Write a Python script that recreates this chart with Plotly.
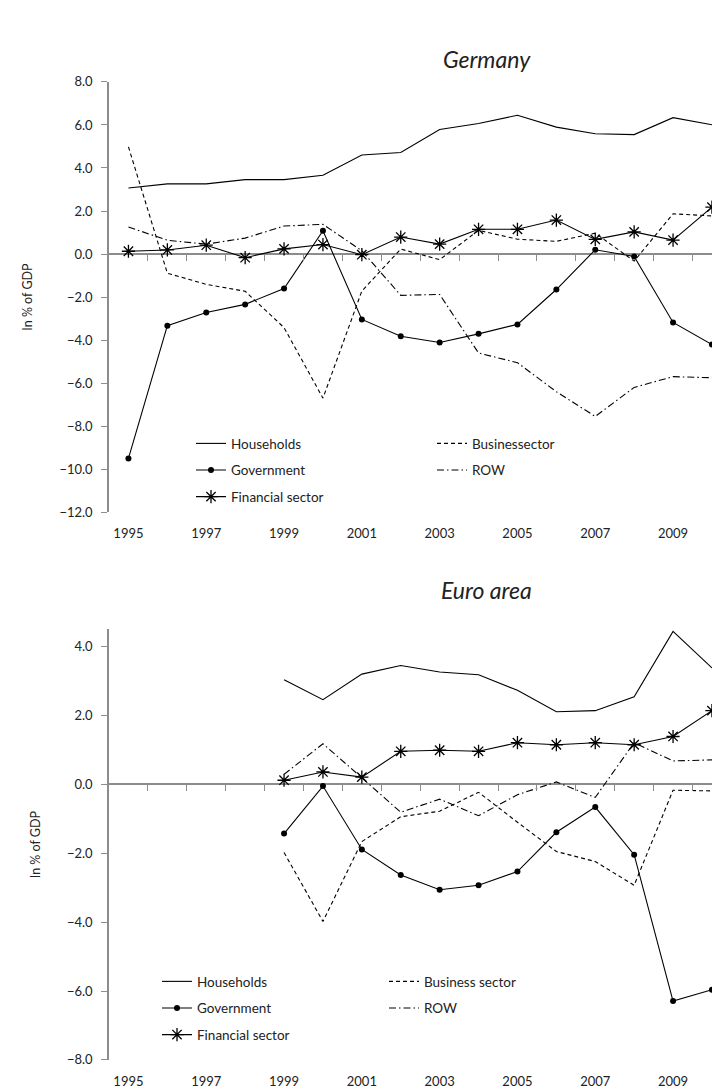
import plotly.graph_objects as go

years = list(range(1995, 2011))
years_ea = list(range(1999, 2011))

# Germany (in % of GDP)
de_households = [3.07, 3.26, 3.26, 3.46, 3.46, 3.66, 4.60, 4.72, 5.79, 6.07, 6.45, 5.90, 5.59, 5.55, 6.34, 6.01]
de_business = [4.98, -0.89, -1.41, -1.73, -3.42, -6.70, -1.72, 0.23, -0.26, 1.10, 0.69, 0.59, 0.97, -0.33, 1.87, 1.77]
de_government = [-9.50, -3.33, -2.72, -2.34, -1.60, 1.08, -3.04, -3.82, -4.11, -3.71, -3.27, -1.65, 0.20, -0.11, -3.18, -4.21]
de_row = [1.26, 0.64, 0.46, 0.74, 1.30, 1.38, 0.15, -1.92, -1.88, -4.60, -5.05, -6.40, -7.55, -6.20, -5.70, -5.75]
de_financial = [0.13, 0.19, 0.41, -0.17, 0.24, 0.44, -0.03, 0.79, 0.46, 1.15, 1.15, 1.58, 0.68, 1.03, 0.65, 2.18]

# Euro area (in % of GDP)
ea_households = [3.04, 2.46, 3.20, 3.45, 3.26, 3.18, 2.73, 2.11, 2.14, 2.54, 4.44, 3.38]
ea_business = [-1.98, -3.98, -1.66, -0.94, -0.78, -0.23, -1.10, -1.95, -2.24, -2.93, -0.17, -0.19]
ea_government = [-1.43, -0.05, -1.89, -2.63, -3.06, -2.93, -2.53, -1.39, -0.66, -2.04, -6.29, -5.96]
ea_row = [0.29, 1.18, 0.19, -0.81, -0.43, -0.91, -0.30, 0.07, -0.38, 1.21, 0.68, 0.71]
ea_financial = [0.12, 0.36, 0.21, 0.96, 0.99, 0.96, 1.21, 1.15, 1.21, 1.15, 1.39, 2.14]

label_years = list(range(1995, 2010, 2))
tick_marks = [y + 0.5 for y in range(1995, 2011)]
de_yticks = list(range(-12, 9, 2))
ea_yticks = list(range(-8, 5, 2))

FONT = "Lato"
TXT = "#222222"
AX = "#8c8c8c"
H = 1089.0

def styles():
    return [
        dict(mode="lines", line=dict(color="black", width=1.1)),
        dict(mode="lines", line=dict(color="black", width=1.1, dash="4px,3px")),
        dict(mode="lines+markers", line=dict(color="black", width=1.1),
             marker=dict(symbol="circle", size=6, color="black")),
        dict(mode="lines", line=dict(color="black", width=1.1, dash="7px,3px,1.5px,3px")),
        dict(mode="lines+markers", line=dict(color="black", width=1.1),
             marker=dict(symbol="asterisk-open", size=11, color="black",
                         line=dict(color="black", width=1.3))),
    ]

fig = go.Figure()

de_names = ["Households", "Businessector", "Government", "ROW", "Financial sector"]
ea_names = ["Households", "Business sector", "Government", "ROW", "Financial sector"]
de_series = [de_households, de_business, de_government, de_row, de_financial]
ea_series = [ea_households, ea_business, ea_government, ea_row, ea_financial]

for i, (n, s, st) in enumerate(zip(de_names, de_series, styles())):
    lg = "legend" if i == 0 else "legend%d" % (i + 1)
    fig.add_trace(go.Scatter(x=years, y=s, name=n, xaxis="x", yaxis="y",
                             legend=lg, hoverinfo="skip", **st))
for i, (n, s, st) in enumerate(zip(ea_names, ea_series, styles())):
    lg = "legend%d" % (i + 6)
    fig.add_trace(go.Scatter(x=years_ea, y=s, name=n, xaxis="x2", yaxis="y2",
                             legend=lg, hoverinfo="skip", **st))

# invisible helper traces for the tick marks along the zero line
fig.add_trace(go.Scatter(x=years, y=[None] * len(years), xaxis="x3", yaxis="y",
                         showlegend=False, hoverinfo="skip", mode="lines"))
fig.add_trace(go.Scatter(x=years, y=[None] * len(years), xaxis="x4", yaxis="y2",
                         showlegend=False, hoverinfo="skip", mode="lines"))

xr = [1994.5, 1994.5 + 619 / 38.9]

def px(y):
    return 1 - y / H

top_dom = [px(503.6), px(66.9)]
bot_dom = [px(1059.5), px(622.5)]

xlab = dict(range=xr, tickmode="array", tickvals=label_years,
            ticktext=[str(y) for y in label_years], showline=False, showgrid=False,
            zeroline=False, ticks="outside", ticklen=9, tickcolor="rgba(0,0,0,0)",
            tickfont=dict(family=FONT, size=13, color=TXT), fixedrange=True)
ylab = dict(showline=True, linecolor=AX, linewidth=1.5, ticks="outside", ticklen=6,
            tickcolor=AX, tickwidth=1.2, showgrid=False, zeroline=True,
            zerolinecolor=AX, zerolinewidth=2.2, tickformat=".1f",
            ticklabelstandoff=6,
            tickfont=dict(family=FONT, size=13, color=TXT),
            title=dict(text="In % of GDP", font=dict(family=FONT, size=12.5, color=TXT),
                       standoff=24))
xticks = dict(range=xr, tickmode="array", tickvals=tick_marks, showticklabels=False,
              ticks="outside", ticklen=6, tickcolor=AX, tickwidth=1.2, showline=False,
              showgrid=False, zeroline=False, anchor="free")

legend_pos = [
    (188, 434), (429, 434), (188, 461), (429, 461), (188, 488),
    (154, 980), (381, 980), (154, 1007), (381, 1007), (154, 1034),
]
legends = {}
for i, (lx, ly) in enumerate(legend_pos):
    key = "legend" if i == 0 else "legend%d" % (i + 1)
    legends[key] = dict(x=(lx - 101 - 5) / 619.0, y=px(ly), xanchor="left", yanchor="middle",
                        bgcolor="rgba(0,0,0,0)", borderwidth=0,
                        font=dict(family=FONT, size=13.5, color=TXT),
                        itemwidth=30, orientation="v")

fig.update_layout(
    width=720, height=1089,
    margin=dict(l=101, r=0, t=0, b=0),
    paper_bgcolor="white", plot_bgcolor="white",
    showlegend=True,
    font=dict(family=FONT, color=TXT),
    xaxis=dict(anchor="y", **xlab),
    yaxis=dict(domain=top_dom, range=[-12, 8], tickvals=de_yticks, anchor="x", **ylab),
    xaxis2=dict(anchor="y2", **xlab),
    yaxis2=dict(domain=bot_dom, range=[-8, 4.5], tickvals=ea_yticks, anchor="x2", **ylab),
    xaxis3=dict(overlaying="x", position=px(241.6), **xticks),
    xaxis4=dict(overlaying="x2", position=px(779.5), **xticks),
    annotations=[
        dict(text="<i>Germany</i>", x=0.61, y=px(27), xref="paper", yref="paper",
             showarrow=False, font=dict(family=FONT, size=23, color=TXT)),
        dict(text="<i>Euro area</i>", x=0.61, y=px(583), xref="paper", yref="paper",
             showarrow=False, font=dict(family=FONT, size=23, color=TXT)),
    ],
    **legends,
)

fig.write_html("out.html")
